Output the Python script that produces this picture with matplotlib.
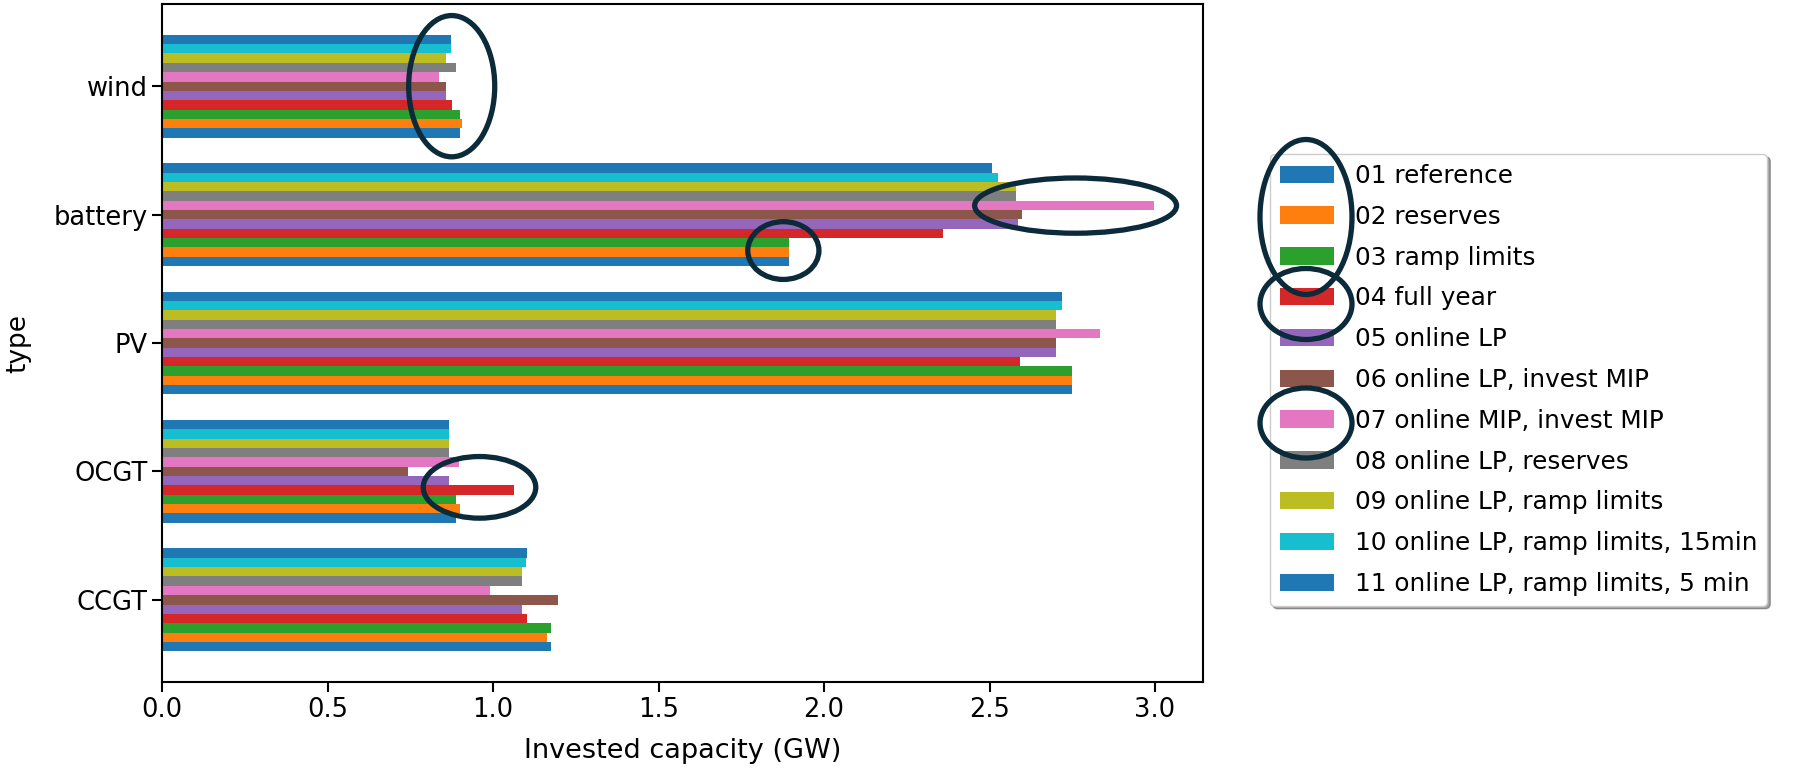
import numpy as np
import matplotlib
matplotlib.use('Agg')
import matplotlib.pyplot as plt
from matplotlib.patches import Ellipse

# %% Data (GW), categories bottom -> top
types = ['CCGT', 'OCGT', 'PV', 'battery', 'wind']

scenarios = [
    '01 reference',
    '02 reserves',
    '03 ramp limits',
    '04 full year',
    '05 online LP',
    '06 online LP, invest MIP',
    '07 online MIP, invest MIP',
    '08 online LP, reserves',
    '09 online LP, ramp limits',
    '10 online LP, ramp limits, 15min',
    '11 online LP, ramp limits, 5 min',
]

# one list per scenario, values in order of `types`
s01 = [1.174, 0.887, 2.748, 1.895, 0.901]
s02 = [1.163, 0.901, 2.748, 1.895, 0.907]
s03 = [1.174, 0.887, 2.748, 1.895, 0.899]
s04 = [1.103, 1.063, 2.591, 2.358, 0.877]
s05 = [1.087, 0.866, 2.700, 2.585, 0.859]
s06 = [1.197, 0.744, 2.700, 2.597, 0.859]
s07 = [0.992, 0.896, 2.834, 2.996, 0.836]
s08 = [1.087, 0.866, 2.700, 2.579, 0.889]
s09 = [1.087, 0.866, 2.700, 2.580, 0.859]
s10 = [1.098, 0.866, 2.718, 2.527, 0.872]
s11 = [1.103, 0.866, 2.718, 2.508, 0.872]
values = [s01, s02, s03, s04, s05, s06, s07, s08, s09, s10, s11]

colors = ['#1f77b4', '#ff7f0e', '#2ca02c', '#d62728', '#9467bd',
          '#8c564b', '#e377c2', '#7f7f7f', '#bcbd22', '#17becf', '#1f77b4']

# %% Plot
plt.rcParams['font.family'] = ['DejaVu Sans']
plt.rcParams['font.size'] = 18.5

fig = plt.figure(figsize=(18.05, 7.69), dpi=100)
ax = fig.add_axes([0.0898, 0.1131, 0.5767, 0.8817])

n = len(scenarios)
w = 0.8 / n
y = np.arange(len(types))
for i, (lab, vals) in enumerate(zip(scenarios, values)):
    ax.barh(y + (i - (n - 1) / 2) * w, vals, height=w,
            color=colors[i], label=lab)

ax.set_yticks(y)
ax.set_yticklabels(types)
ax.set_ylim(-0.64, 4.64)
ax.set_xlim(0, 3.145)
ax.set_xticks([0.0, 0.5, 1.0, 1.5, 2.0, 2.5, 3.0])
ax.set_xlabel('Invested capacity (GW)', fontsize=19.5, labelpad=11)
ax.set_ylabel('type', fontsize=19, labelpad=16)
ax.tick_params(length=7, width=1.5)
for sp in ax.spines.values():
    sp.set_linewidth(1.5)

ax.legend(loc='upper left', bbox_to_anchor=(1270 / 1805, 1 - 154 / 769),
          bbox_transform=fig.transFigure, borderaxespad=0, fontsize=17.8,
          labelspacing=0.68, handlelength=2.19, handletextpad=0.85,
          shadow=True)

# %% Hand-drawn style highlight rings
ring = '#0b2a3a'
for cx, cy, ew, eh in [(0.875, 4.0, 0.26, 1.10),
                       (2.76, 3.07, 0.61, 0.43),
                       (1.877, 2.72, 0.215, 0.45),
                       (0.959, 0.876, 0.34, 0.48)]:
    ax.add_patch(Ellipse((cx, cy), ew, eh, fill=False, ec=ring,
                         lw=3.8, clip_on=False, zorder=5))

for px, py, pw, ph in [(1306, 217, 92, 155),
                       (1306, 304, 92, 71),
                       (1306, 423, 92, 70)]:
    fig.add_artist(Ellipse((px / 1805, 1 - py / 769), pw / 1805, ph / 769,
                           transform=fig.transFigure, fill=False, ec=ring,
                           lw=3.8, zorder=10))

plt.savefig('out.png', dpi=100)
plt.close(fig)
